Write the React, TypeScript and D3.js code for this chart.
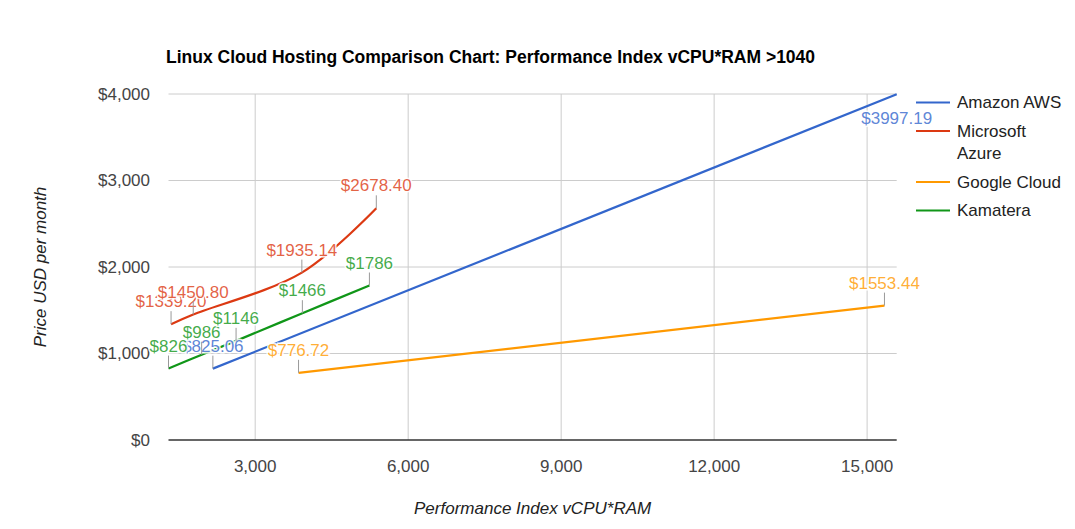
import React from "react";
import * as d3 from "d3";

const seriesNames = ["Amazon AWS", "Microsoft Azure", "Google Cloud", "Kamatera"];
const seriesColors = ["#3366cc", "#dc3912", "#ff9900", "#109618"];

const awsX = [2170, 15580];
const awsY = [825.06, 3997.19];
const awsLabels = ["$825.06", "$3997.19"];

const azureX = [1350, 1785, 3915, 5375];
const azureY = [1339.2, 1450.8, 1935.14, 2678.4];
const azureLabels = ["$1339.20", "$1450.80", "$1935.14", "$2678.40"];

const googleX = [3850, 15340];
const googleY = [776.72, 1553.44];
const googleLabels = ["$776.72", "$1553.44"];

const kamateraX = [1300, 1950, 2625, 3925, 5240];
const kamateraY = [826, 986, 1146, 1466, 1786];
const kamateraLabels = ["$826", "$986", "$1146", "$1466", "$1786"];

const xTicks = [3000, 6000, 9000, 12000, 15000];
const yTicks = [0, 1000, 2000, 3000, 4000];
const xDomain = [1300, 15580];
const yDomain = [0, 4000];

const titleText = "Linux Cloud Hosting Comparison Chart: Performance Index vCPU*RAM >1040";
const xTitle = "Performance Index vCPU*RAM";
const yTitle = "Price USD per month";

const FONT = "Arial, 'Liberation Sans', sans-serif";

export default function App() {
  const W = 1075, H = 529;
  const left = 168.5, right = 896.7, top = 94, bottom = 440;
  const x = d3.scaleLinear().domain(xDomain).range([left, right]);
  const y = d3.scaleLinear().domain(yDomain).range([bottom, top]);

  const series = [
    { name: seriesNames[0], xs: awsX, ys: awsY, labels: awsLabels },
    { name: seriesNames[1], xs: azureX, ys: azureY, labels: azureLabels },
    { name: seriesNames[2], xs: googleX, ys: googleY, labels: googleLabels },
    { name: seriesNames[3], xs: kamateraX, ys: kamateraY, labels: kamateraLabels },
  ];

  const line = d3
    .line<[number, number]>()
    .x((d) => x(d[0]))
    .y((d) => y(d[1]))
    .curve(d3.curveCatmullRom.alpha(0.5));

  const fmtX = d3.format(",");
  const fmtY = (v: number) => "$" + d3.format(",")(v);

  const legendRows = [
    { lines: ["Amazon AWS"], y: 102.5 },
    { lines: ["Microsoft", "Azure"], y: 131 },
    { lines: ["Google Cloud"], y: 182 },
    { lines: ["Kamatera"], y: 210.5 },
  ];

  return (
    <>
      <style>{`body{margin:0;}`}</style>
      <svg width={W} height={H} style={{ display: "block", background: "#fff" }} fontFamily={FONT}>
        <rect x={0} y={0} width={W} height={H} fill="#fff" />
        {/* title */}
        <text x={166} y={63} fontSize={17.5} fontWeight="bold" fill="#000">
          {titleText}
        </text>
        {/* gridlines */}
        {yTicks.filter((t) => t !== 0).map((t) => (
          <line key={"gy" + t} x1={left} x2={right} y1={y(t)} y2={y(t)} stroke="#cccccc" strokeWidth={1} />
        ))}
        {xTicks.map((t) => (
          <line key={"gx" + t} x1={x(t)} x2={x(t)} y1={top} y2={bottom} stroke="#cccccc" strokeWidth={1} />
        ))}
        <line x1={left} x2={right} y1={y(0)} y2={y(0)} stroke="#333" strokeWidth={1.5} />
        {/* y tick labels */}
        {yTicks.map((t) => (
          <text key={"ly" + t} x={150} y={y(t)} dy="0.35em" textAnchor="end" fontSize={17} fill="#444">
            {fmtY(t)}
          </text>
        ))}
        {/* x tick labels */}
        {xTicks.map((t) => (
          <text key={"lx" + t} x={x(t)} y={466} dy="0.35em" textAnchor="middle" fontSize={17} fill="#444">
            {fmtX(t)}
          </text>
        ))}
        {/* axis titles */}
        <text x={(left + right) / 2} y={508} dy="0.35em" textAnchor="middle" fontSize={17} fontStyle="italic" fill="#222">
          {xTitle}
        </text>
        <text
          transform={`translate(40,${(top + bottom) / 2}) rotate(-90)`}
          textAnchor="middle"
          dy="0.35em"
          fontSize={17}
          fontStyle="italic"
          fill="#222"
        >
          {yTitle}
        </text>
        {/* lines */}
        {series.map((s, i) => (
          <path
            key={"s" + i}
            d={line(s.xs.map((v, j) => [v, s.ys[j]] as [number, number])) || ""}
            fill="none"
            stroke={seriesColors[i]}
            strokeWidth={2.2}
          />
        ))}
        {/* annotations */}
        {series.map((s, i) =>
          s.xs.map((v, j) => {
            const px = x(v);
            const py = y(s.ys[j]);
            const below = py - 30 < top;
            return (
              <g key={"a" + i + "-" + j}>
                {!below && <line x1={px} x2={px} y1={py} y2={py - 13} stroke="#999" strokeWidth={1} />}
                <text
                  x={px}
                  y={below ? py + 30 : py - 17}
                  textAnchor="middle"
                  fontSize={17}
                  fill={seriesColors[i]}
                  fillOpacity={0.8}
                  stroke="#fff"
                  strokeWidth={3}
                  strokeOpacity={0.9}
                  paintOrder="stroke"
                >
                  {s.labels[j]}
                </text>
              </g>
            );
          })
        )}
        {/* legend */}
        {legendRows.map((r, i) => (
          <g key={"lg" + i}>
            <line x1={916} x2={950} y1={r.y} y2={r.y} stroke={seriesColors[i]} strokeWidth={2} />
            {r.lines.map((t, k) => (
              <text key={k} x={957} y={r.y + k * 22} dy="0.35em" fontSize={17} fill="#222">
                {t}
              </text>
            ))}
          </g>
        ))}
      </svg>
    </>
  );
}
